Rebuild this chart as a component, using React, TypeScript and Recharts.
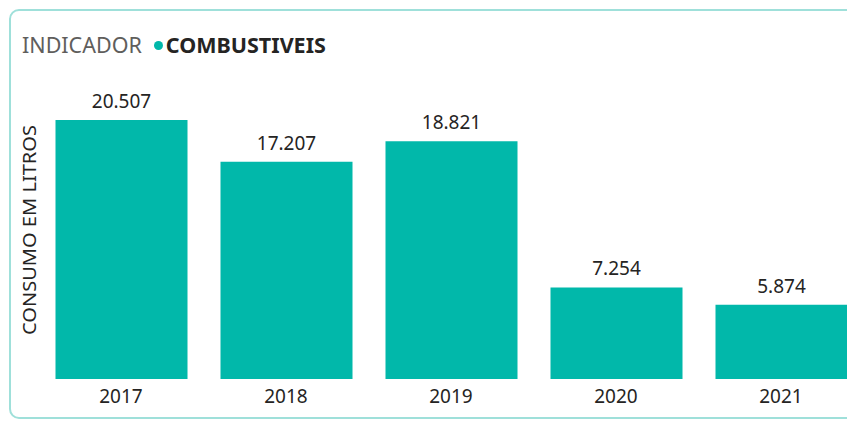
import { BarChart, Bar, XAxis, YAxis, LabelList } from 'recharts';

const years = ['2017', '2018', '2019', '2020', '2021'];
const consumo = [20507, 17207, 18821, 7254, 5874];
const legendTitle = 'INDICADOR';
const legendItem = 'COMBUSTIVEIS';
const yTitle = 'CONSUMO EM LITROS';

const data = years.map((ano, i) => ({ ano, consumo: consumo[i] }));

const TEAL = '#01B8AA';
const FONT = '"Noto Sans", "Open Sans", sans-serif';

const fmt = (v: number) => v.toLocaleString('pt-BR');

export default function App() {
  return (
    <div style={{ position: 'fixed', left: 0, top: 0, width: 847, height: 421, overflow: 'hidden', background: '#fff' }}>
      <div
        style={{
          position: 'absolute', left: 9, top: 9, width: 900, height: 410,
          border: '2px solid #9FE0DA', borderRadius: 10, boxSizing: 'border-box',
        }}
      />
      <div
        style={{
          position: 'absolute', left: 22, top: 31, display: 'flex', alignItems: 'center',
          fontFamily: FONT, fontSize: 21.5, lineHeight: '28px', whiteSpace: 'nowrap',
        }}
      >
        <span style={{ color: '#605E5C' }}>{legendTitle}</span>
        <span style={{ display: 'inline-block', width: 9, height: 9, borderRadius: '50%', background: TEAL, marginLeft: 12, marginRight: 3 }} />
        <span style={{ color: '#252423', fontWeight: 700 }}>{legendItem}</span>
      </div>
      <svg style={{ position: 'absolute', left: 0, top: 0 }} width={60} height={421}>
        <text
          x={29}
          y={230}
          transform="rotate(-90, 29, 230)"
          textAnchor="middle"
          dominantBaseline="central"
          fill="#252423"
          fontSize={18}
          fontFamily={FONT}
          textLength={210}
          lengthAdjust="spacingAndGlyphs"
        >
          {yTitle}
        </text>
      </svg>
      <div style={{ position: 'absolute', left: 0, top: 0 }}>
        <BarChart width={900} height={421} data={data} margin={{ top: 120, right: 36.5, bottom: 12, left: 38.5 }} barSize={132}>
          <XAxis
            dataKey="ano"
            axisLine={false}
            tickLine={false}
            tickMargin={5}
            height={30}
            tick={{ fill: '#252423', fontSize: 19, fontFamily: FONT }}
          />
          <YAxis hide domain={[0, 20507]} />
          <Bar dataKey="consumo" fill={TEAL} isAnimationActive={false}>
            <LabelList
              dataKey="consumo"
              position="top"
              offset={12}
              formatter={(v: any) => fmt(Number(v))}
              style={{ fill: '#252423', fontSize: 19, fontFamily: FONT }}
            />
          </Bar>
        </BarChart>
      </div>
    </div>
  );
}
